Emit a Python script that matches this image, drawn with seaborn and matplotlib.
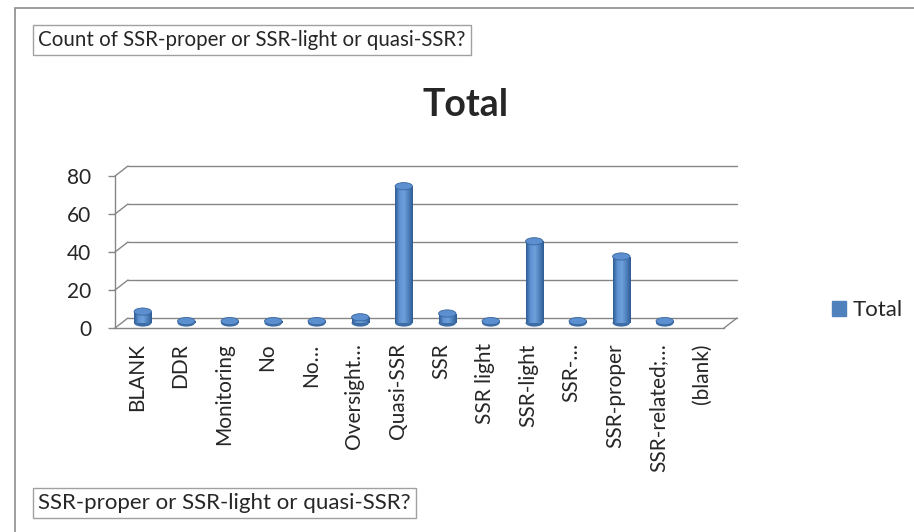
import matplotlib
matplotlib.use("Agg")
import numpy as np
import seaborn as sns
import matplotlib.pyplot as plt
from matplotlib.patches import Rectangle, Ellipse, Patch
from matplotlib.lines import Line2D
from matplotlib.transforms import ScaledTranslation
from matplotlib.colors import LinearSegmentedColormap

# data
categories = ["BLANK", "DDR", "Monitoring", "No", "No…", "Oversight…", "Quasi-SSR",
              "SSR", "SSR light", "SSR-light", "SSR-…", "SSR-proper", "SSR-related;…", "(blank)"]
counts = [6, 1, 1, 1, 1, 3, 72, 5, 1, 43, 1, 35, 1, 0]
y_ticks = [0, 20, 40, 60, 80]
series_name = "Total"
field_label = "Count of SSR-proper or SSR-light or quasi-SSR?"
axis_field = "SSR-proper or SSR-light or quasi-SSR?"

BLUE = "#4F81BD"
TOP = "#5B8FD0"
EDGE = "#3B679C"
GRID = "#868686"

sns.set_style("white")
plt.rcParams["font.family"] = ["Lato", "DejaVu Sans"]

W, H = 914, 532
fig = plt.figure(figsize=(W / 100, H / 100), dpi=100)

# outer chart frame
fig.add_artist(Rectangle((15 / W, -0.1), 1.1, 1 - 8 / H + 0.1, transform=fig.transFigure,
                         fill=False, ec="#8C8C8C", lw=1.2))

ax = fig.add_axes([115 / W, 1 - 328 / H, 609 / W, 152 / H])
sns.barplot(x=categories, y=counts, color=BLUE, width=0.4, saturation=1, ax=ax,
            zorder=3, linewidth=0, edgecolor="none")

mid = ScaledTranslation(0.06, 0.05, fig.dpi_scale_trans)
back = ScaledTranslation(0.13, 0.10, fig.dpi_scale_trans)

cyl = LinearSegmentedColormap.from_list("cyl", ["#2F5C92", "#5E93D4", "#6FA0DC", "#4F81BD", "#2F5C92"])
grad = np.linspace(0, 1, 64).reshape(1, -1)

for p in list(ax.patches):
    x0, w, h = p.get_x(), p.get_width(), p.get_height()
    p.set_transform(ax.transData + mid)
    if h <= 0:
        p.set_visible(False)
        continue
    base = Ellipse((x0 + w / 2, 0), w, 3.8, transform=ax.transData + mid,
                   fc="#3E6DA6", ec="none", zorder=2.9)
    ax.add_patch(base)
    im = ax.imshow(grad, cmap=cyl, extent=(x0, x0 + w, 0, h), aspect="auto",
                   zorder=3.1, interpolation="bilinear")
    im.set_transform(ax.transData + mid)
    im.set_clip_path(p)
    cap = Ellipse((x0 + w / 2, h), w, 3.8, transform=ax.transData + mid,
                  fc=TOP, ec=EDGE, lw=0.6, zorder=4)
    ax.add_patch(cap)

n = len(categories)
ax.set_xlim(-0.5, n - 0.5)
ax.set_ylim(0, 80)
ax.set_yticks(y_ticks)

# back wall gridlines
for v in y_ticks:
    ax.plot([-0.5, n - 0.5], [v, v], color=GRID, lw=1, zorder=1,
            transform=ax.transData + back, clip_on=False)
    p0 = ax.transData.transform((-0.5, v))
    fig.add_artist(Line2D([p0[0], p0[0] + 13], [p0[1], p0[1] + 10], transform=None,
                          color=GRID, lw=1))
p0 = ax.transData.transform((n - 0.5, 0))
fig.add_artist(Line2D([p0[0], p0[0] + 13], [p0[1], p0[1] + 10], transform=None,
                      color=GRID, lw=1))

for s in ["top", "right"]:
    ax.spines[s].set_visible(False)
for s in ["left", "bottom"]:
    ax.spines[s].set_color(GRID)
    ax.spines[s].set_linewidth(1)

ax.set_xticks(np.arange(-0.5, n, 1), minor=True)
ax.tick_params(axis="x", which="minor", length=6, color=GRID, width=1, direction="out")
ax.tick_params(axis="x", which="major", length=0, pad=11, labelsize=15, rotation=90)
ax.tick_params(axis="y", length=5, color=GRID, width=1, pad=12, labelsize=15, left=True)
ax.set_xlabel("")
ax.set_ylabel("")
ax.grid(False)
ax.set_facecolor("none")

fig.text(466 / W, 1 - 116 / H, series_name, ha="center", va="baseline",
         fontsize=27, fontweight="bold")

fig.legend(handles=[Patch(color=BLUE, label=series_name)], loc="center left",
           bbox_to_anchor=(812 / W, 1 - 310 / H), frameon=False, fontsize=16,
           handlelength=0.65, handleheight=0.65, handletextpad=0.3)

box = dict(boxstyle="square,pad=0.25", fc="white", ec="#A0A0A0", lw=1)
fig.text(38 / W, 1 - 40 / H, field_label, ha="left", va="center", fontsize=14.8, bbox=box)
box2 = dict(boxstyle="square,pad=0.22", fc="white", ec="#A0A0A0", lw=1)
fig.text(38 / W, 1 - 503 / H, axis_field, ha="left", va="center", fontsize=16, bbox=box2)

fig.savefig("out.png", dpi=100)
